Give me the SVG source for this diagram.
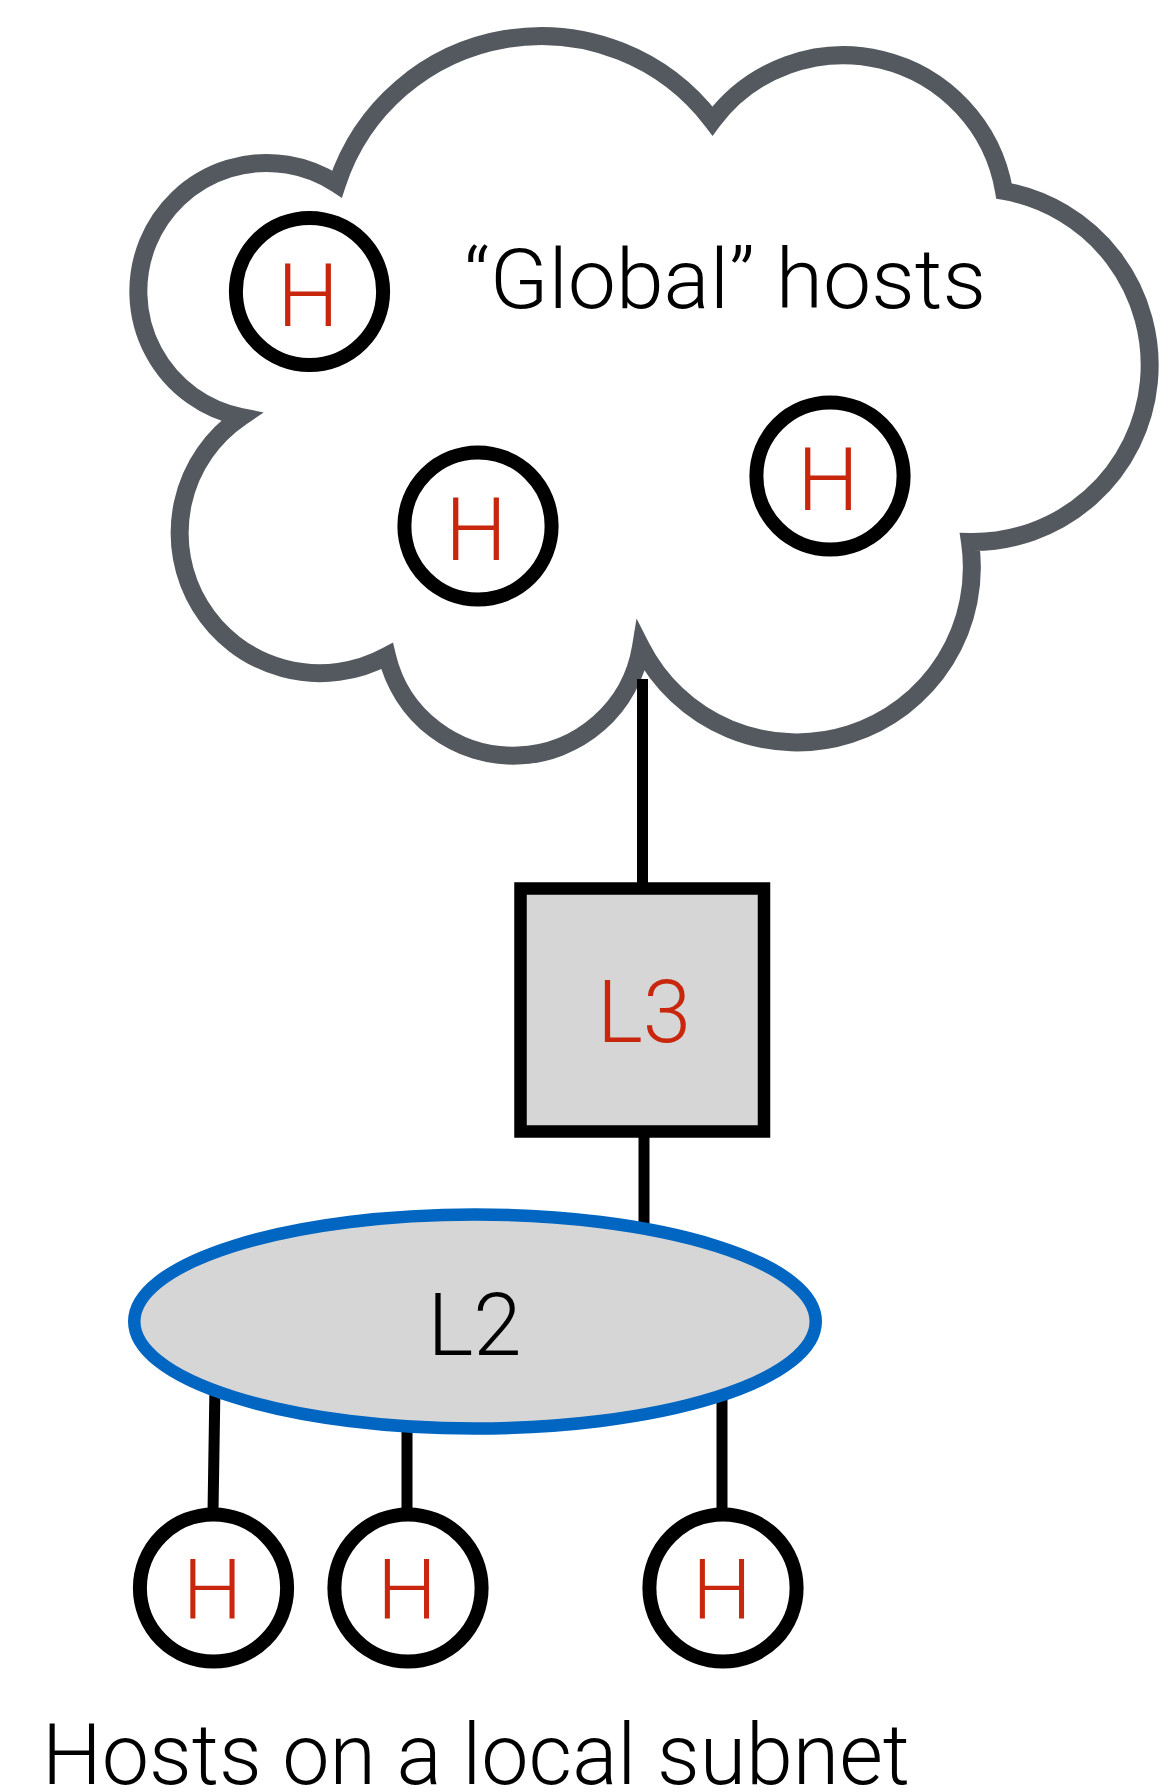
<svg xmlns="http://www.w3.org/2000/svg" width="1174" height="1792" viewBox="0 0 1174 1792">
  <style>
    .cloud { fill: #ffffff; stroke: #54595f; stroke-width: 18; stroke-linejoin: miter; stroke-miterlimit: 12; }
    .host { fill: #ffffff; stroke: #000000; stroke-width: 14; }
    .wire { stroke: #000000; stroke-width: 11; fill: none; }
    .router { fill: #d6d6d6; stroke: #000000; stroke-width: 12.5; }
    .segment { fill: #d6d6d6; stroke: #0066c2; stroke-width: 12.5; }
    .lbl { font-family: Roboto, "Liberation Sans", sans-serif; font-weight: 300; text-anchor: middle; }
    .red { fill: #c9260e; }
    .blk { fill: #000000; }
    .cap { font-family: Roboto, "Liberation Sans", sans-serif; font-weight: 300; fill: #000000; }
  </style>

  <rect width="1174" height="1792" fill="#ffffff"/>

  <!-- internet cloud -->
  <g id="cloud">
    <path class="cloud" d="M 241 417
      A 128.3 128.3 0 1 1 337 184
      A 215 215 0 0 1 712.5 121
      A 163 163 0 0 1 1004 191
      A 176.9 176.9 0 0 1 970 542
      A 175 175 0 0 1 641 647
      A 129.6 129.6 0 0 1 387 656
      A 140.2 140.2 0 0 1 241 417 Z"/>
    <text class="cap" x="464" y="308" font-size="84" textLength="522" lengthAdjust="spacingAndGlyphs">“Global” hosts</text>
  </g>

  <!-- links -->
  <g id="connectors">
    <line class="wire" x1="642.5" y1="679" x2="642.5" y2="892"/>
    <line class="wire" x1="644" y1="1128" x2="644" y2="1232"/>
    <line class="wire" x1="215" y1="1385" x2="213" y2="1512"/>
    <line class="wire" x1="407" y1="1420" x2="407" y2="1512"/>
    <line class="wire" x1="722" y1="1390" x2="722" y2="1512"/>
  </g>

  <g id="global-host-1">
    <circle class="host" cx="309.5" cy="291.5" r="73.6"/>
    <text class="lbl red" x="308" y="326" font-size="87">H</text>
  </g>
  <g id="global-host-2">
    <circle class="host" cx="478" cy="526" r="73.6"/>
    <text class="lbl red" x="476" y="560" font-size="87">H</text>
  </g>
  <g id="global-host-3">
    <circle class="host" cx="830" cy="476" r="73.6"/>
    <text class="lbl red" x="828" y="510" font-size="87">H</text>
  </g>

  <g id="router-l3">
    <rect class="router" x="520.5" y="888.5" width="243.5" height="243"/>
    <text class="lbl red" x="644" y="1042" font-size="87">L3</text>
  </g>

  <g id="switch-l2">
    <ellipse class="segment" cx="475" cy="1321.5" rx="340.75" ry="107"/>
    <text class="lbl blk" x="474.5" y="1355" font-size="87">L2</text>
  </g>

  <g id="local-host-1">
    <circle class="host" cx="213.5" cy="1588" r="73.6"/>
    <text class="lbl red" x="212.5" y="1619" font-size="84">H</text>
  </g>
  <g id="local-host-2">
    <circle class="host" cx="408" cy="1588" r="73.6"/>
    <text class="lbl red" x="407" y="1619" font-size="84">H</text>
  </g>
  <g id="local-host-3">
    <circle class="host" cx="723" cy="1588" r="73.6"/>
    <text class="lbl red" x="722" y="1619" font-size="84">H</text>
  </g>

  <g id="caption">
    <text class="cap" x="42" y="1784" font-size="86" textLength="868" lengthAdjust="spacingAndGlyphs">Hosts on a local subnet</text>
  </g>
</svg>
